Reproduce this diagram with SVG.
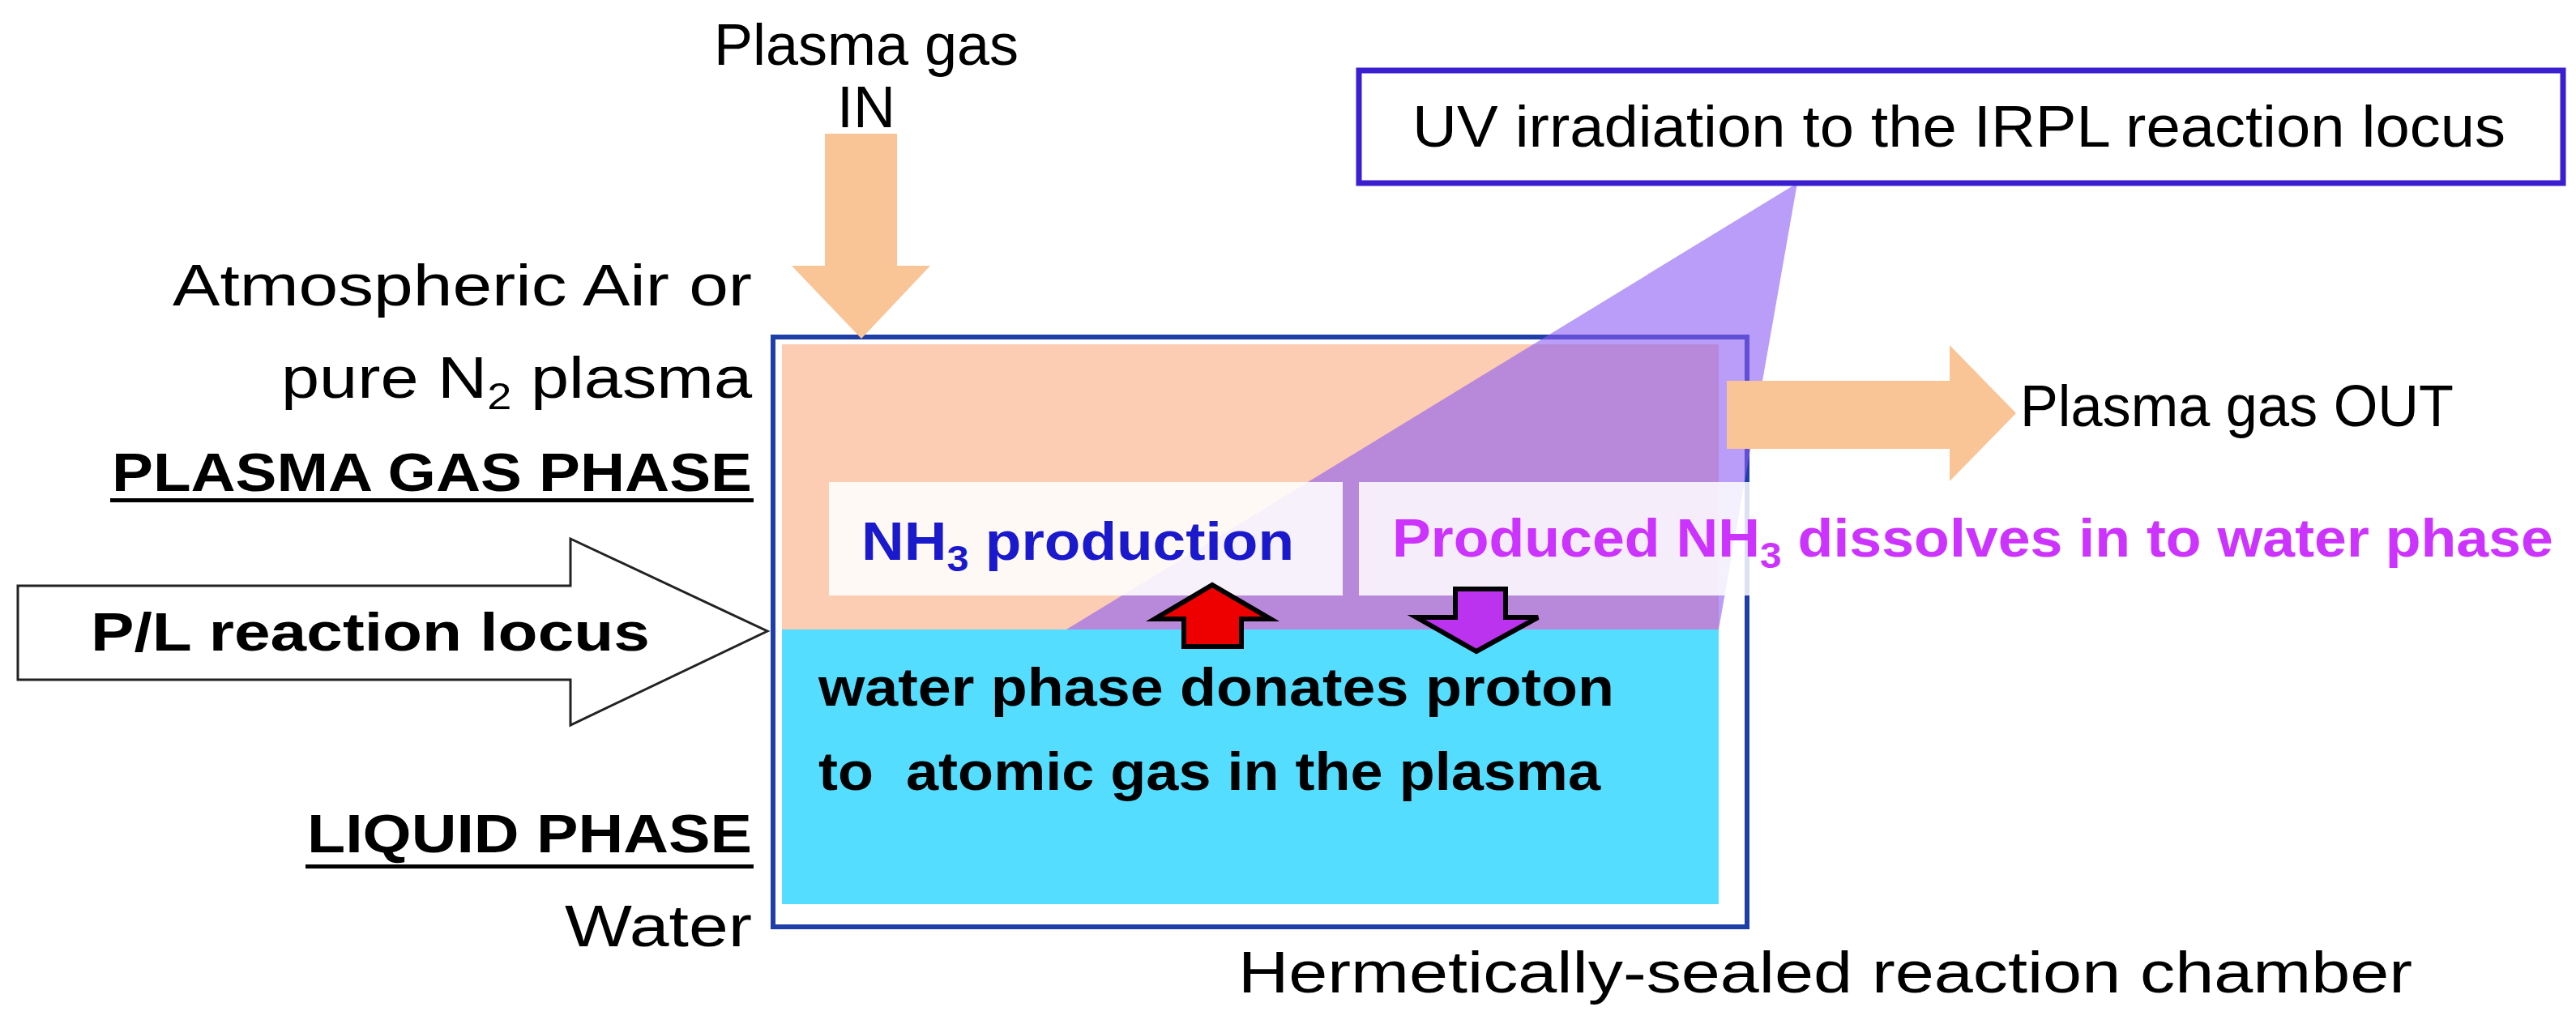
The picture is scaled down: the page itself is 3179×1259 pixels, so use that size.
<svg xmlns="http://www.w3.org/2000/svg" width="3179" height="1259" viewBox="0 0 3179 1259">
<style>
text{font-family:"Liberation Sans",Arial,sans-serif;font-size:72px;fill:#000}
.b{font-weight:bold;font-size:66px}
.peach{fill:#F9C596}
</style>
<rect width="3179" height="1259" fill="#fff"/>
<g id="chamber">
<rect x="965" y="425" width="1156" height="352" fill="#FCCDB2"/>
<rect x="965" y="777" width="1156" height="339" fill="#55DDFF"/>
<rect x="954" y="416" width="1202" height="728" fill="none" stroke="#1F3FA8" stroke-width="6"/>
</g>
<g id="uv-beam">
<polygon points="2218,226 1316,777 2121,777" fill="#8A5CF5" fill-opacity="0.6"/>
</g>
<g id="uv-label">
<rect x="1677" y="87" width="1486" height="139" fill="#fff" stroke="#3A1FD0" stroke-width="7"/>
<text x="1743" y="181" textLength="1349" lengthAdjust="spacingAndGlyphs">UV irradiation to the IRPL reaction locus</text>
</g>
<g id="nh3-production">
<rect x="1023" y="595" width="634" height="140" fill="#fff" fill-opacity="0.88"/>
<text class="b" x="1063" y="691" style="fill:#1A1ACC" textLength="534" lengthAdjust="spacingAndGlyphs">NH<tspan font-size="44" dy="14">3</tspan><tspan dy="-14"> production</tspan></text>
</g>
<g id="nh3-dissolves">
<rect x="1677" y="595" width="1500" height="140" fill="#fff" fill-opacity="0.85"/>
<text class="b" x="1718" y="687" style="fill:#CC33FF" textLength="1433" lengthAdjust="spacingAndGlyphs">Produced NH<tspan font-size="44" dy="14">3</tspan><tspan dy="-14"> dissolves in to water phase</tspan></text>
</g>
<g id="connectors">
<polygon class="peach" points="1018,165 1107,165 1107,328 1148,328 1063,418 977,328 1018,328"/>
<polygon class="peach" points="2131,470 2406,470 2406,426 2488,510 2406,594 2406,554 2131,554"/>
<polygon points="22,723 704,723 704,665 947,779 704,895 704,839 22,839" fill="#fff" stroke="#222" stroke-width="3"/>
<polygon points="1461,798 1532,798 1532,764 1568,764 1496,722 1425,764 1461,764" fill="#EE0000" stroke="#000" stroke-width="6"/>
<polygon points="1796,727 1858,727 1858,762 1898,762 1822,804 1748,762 1796,762" fill="#BB33EE" stroke="#000" stroke-width="6"/>
</g>
<g id="water-text">
<text class="b" x="1010" y="871" textLength="982" lengthAdjust="spacingAndGlyphs">water phase donates proton</text>
<text class="b" x="1010" y="975" textLength="965" lengthAdjust="spacingAndGlyphs" xml:space="preserve">to  atomic gas in the plasma</text>
</g>
<g id="labels">
<text x="1069" y="80" text-anchor="middle">Plasma gas</text>
<text x="1069" y="157" text-anchor="middle">IN</text>
<text x="213" y="377" textLength="715" lengthAdjust="spacingAndGlyphs">Atmospheric Air or</text>
<text x="347" y="491" textLength="581" lengthAdjust="spacingAndGlyphs">pure N<tspan font-size="46" dy="14">2</tspan><tspan dy="-14"> plasma</tspan></text>
<text class="b" x="138" y="606" textLength="790" lengthAdjust="spacingAndGlyphs">PLASMA GAS PHASE</text>
<rect x="136" y="615" width="794" height="5"/>
<text class="b" x="112" y="803" textLength="690" lengthAdjust="spacingAndGlyphs">P/L reaction locus</text>
<text class="b" x="379" y="1052" textLength="549" lengthAdjust="spacingAndGlyphs">LIQUID PHASE</text>
<rect x="377" y="1067" width="553" height="5"/>
<text x="697" y="1168" textLength="231" lengthAdjust="spacingAndGlyphs">Water</text>
<text x="2493" y="526" textLength="535" lengthAdjust="spacingAndGlyphs">Plasma gas OUT</text>
<text x="1528" y="1225" textLength="1449" lengthAdjust="spacingAndGlyphs">Hermetically-sealed reaction chamber</text>
</g>
</svg>
